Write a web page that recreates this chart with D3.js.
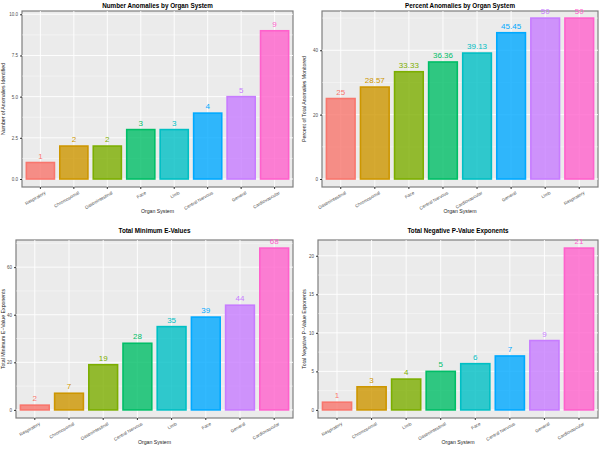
<!DOCTYPE html><html><head><meta charset="utf-8">
<script src="https://cdn.jsdelivr.net/npm/d3@7"></script>
<style>body{margin:0;background:#fff}text{font-family:"Liberation Sans",Arial,sans-serif}</style></head><body>
<svg id="c" width="603" height="450"></svg>
<script>
const colors=["#F8766D","#CD9600","#7CAE00","#00BE67","#00BFC4","#00A9FF","#C77CFF","#FF61CC"];
const cats1=["Respiratory","Chromosomal","Gastrointestinal","Face","Limb","Central Nervous","General","Cardiovascular"];
const vals1=[1,2,2,3,3,4,5,9];
const cats2=["Gastrointestinal","Chromosomal","Face","Central Nervous","Cardiovascular","General","Limb","Respiratory"];
const vals2=[25,28.57,33.33,36.36,39.13,45.45,50,50];
const cats3=["Respiratory","Chromosomal","Gastrointestinal","Central Nervous","Limb","Face","General","Cardiovascular"];
const vals3=[2,7,19,28,35,39,44,68];
const cats4=["Respiratory","Chromosomal","Limb","Gastrointestinal","Face","Central Nervous","General","Cardiovascular"];
const vals4=[1,3,4,5,6,7,9,21];
const panels=[
 {t:"Number Anomalies by Organ System",y:"Number of Anomalies Identified",c:cats1,v:vals1,ticks:[0,2.5,5,7.5,10],fmt:d3.format(".1f"),max:10.2,lab:d=>d,x0:22,x1:293,y0:11,y1:187,ox:0,oy:0},
 {t:"Percent Anomalies by Organ System",y:"Percent of Total Anomalies Monitored",c:cats2,v:vals2,ticks:[0,20,40],fmt:d=>d,max:52.2,lab:d=>d,x0:322,x1:598,y0:11,y1:187,ox:301,oy:0},
 {t:"Total Minimum E-Values",y:"Total Minimum E\u2212Value Exponents",c:cats3,v:vals3,ticks:[0,20,40,60],fmt:d=>d,max:71.4,lab:d=>d,x0:16,x1:293,y0:240,y1:418,ox:0,oy:225},
 {t:"Total Negative P-Value Exponents",y:"Total Negative P\u2212Value Exponents",c:cats4,v:vals4,ticks:[0,5,10,15,20],fmt:d=>d,max:22.05,lab:d=>d,x0:318,x1:598,y0:240,y1:418,ox:301,oy:225}
];
const svg=d3.select("#c");
panels.forEach(p=>{
 const g=svg.append("g");
 const x=d3.scaleBand().domain(p.c).range([p.x0,p.x1]).paddingInner(0.1).paddingOuter(0.1);
 const y=d3.scaleLinear().domain([0,p.max]).range([p.y1,p.y0]);
 const base=y(0)+ (p.y1-p.y0)*0.045; // ggplot expansion
 const yy=d3.scaleLinear().domain([-p.max*0.05/1.05,p.max]).range([p.y1,p.y0]);
 g.append("rect").attr("x",p.x0).attr("y",p.y0).attr("width",p.x1-p.x0).attr("height",p.y1-p.y0).attr("fill","#EBEBEB").attr("stroke","#7f7f7f").attr("stroke-width",1.2);
 const minor=[];for(let i=0;i<p.ticks.length-1;i++)minor.push((p.ticks[i]+p.ticks[i+1])/2);
 minor.push(p.ticks[p.ticks.length-1]+(p.ticks[1]-p.ticks[0])/2);
 g.selectAll(".mn").data(minor.filter(d=>d<p.max)).enter().append("line").attr("x1",p.x0).attr("x2",p.x1).attr("y1",d=>yy(d)).attr("y2",d=>yy(d)).attr("stroke","#fff").attr("stroke-width",0.4);
 g.selectAll(".mj").data(p.ticks).enter().append("line").attr("x1",p.x0).attr("x2",p.x1).attr("y1",d=>yy(d)).attr("y2",d=>yy(d)).attr("stroke","#fff").attr("stroke-width",0.9);
 g.selectAll(".vx").data(p.c).enter().append("line").attr("x1",d=>x(d)+x.bandwidth()/2).attr("x2",d=>x(d)+x.bandwidth()/2).attr("y1",p.y0).attr("y2",p.y1).attr("stroke","#fff").attr("stroke-width",0.9);
 g.selectAll(".b").data(p.v).enter().append("rect").attr("x",(d,i)=>x(p.c[i])+1).attr("width",x.bandwidth()-2)
  .attr("y",d=>yy(d)).attr("height",d=>yy(0)-yy(d)).attr("fill",(d,i)=>colors[i]).attr("fill-opacity",0.8).attr("stroke",(d,i)=>colors[i]).attr("stroke-width",1.6);
 g.selectAll(".l").data(p.v).enter().append("text").attr("x",(d,i)=>x(p.c[i])+x.bandwidth()/2).attr("y",d=>yy(d)-4).attr("text-anchor","middle").attr("font-size",8).attr("fill",(d,i)=>colors[i]).text(d=>p.lab(d));
 g.append("g").attr("transform",`translate(${p.x0},0)`).call(d3.axisLeft(yy).tickValues(p.ticks).tickFormat(p.fmt).tickSize(2).tickPadding(2))
  .call(a=>{a.select(".domain").remove();a.selectAll("text").attr("font-size",4.5).attr("fill","#4d4d4d");a.selectAll("line").attr("stroke","#333")});
 const ax=g.append("g").attr("transform",`translate(0,${p.y1})`).call(d3.axisBottom(x).tickSize(2).tickPadding(2));
 ax.select(".domain").remove();ax.selectAll("line").attr("stroke","#333");
 ax.selectAll("text").attr("font-size",4.5).attr("fill","#4d4d4d").attr("text-anchor","end").attr("dy","0.3em").attr("transform","translate(3,2) rotate(-30)");
 g.append("text").attr("x",(p.x0+p.x1)/2).attr("y",p.oy+8).attr("text-anchor","middle").attr("font-size",6.3).attr("font-weight","bold").text(p.t);
 g.append("text").attr("x",(p.x0+p.x1)/2).attr("y",p.y1+26).attr("text-anchor","middle").attr("font-size",5.2).attr("fill","#222").text("Organ System");
 g.append("text").attr("transform",`translate(${p.ox+5},${(p.y0+p.y1)/2}) rotate(-90)`).attr("text-anchor","middle").attr("font-size",5.2).attr("fill","#222").text(p.y);
});
</script></body></html>
